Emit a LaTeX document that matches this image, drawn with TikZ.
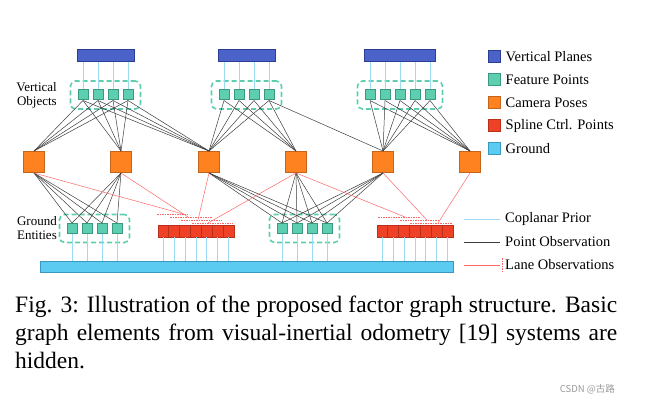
\documentclass[tikz,border=0pt]{standalone}
\usepackage{fontspec}
\setmainfont{Liberation Serif}
\newfontfamily\cjkfont{Noto Sans CJK SC}
\usepackage{tikz}
\usetikzlibrary{positioning}
\usetikzlibrary{fit}
\definecolor{planefill}{HTML}{4B62C8}
\definecolor{planeline}{HTML}{2B3E94}
\definecolor{featfill}{HTML}{5DCFB0}
\definecolor{featline}{HTML}{3A9980}
\definecolor{camfill}{HTML}{FF8220}
\definecolor{camline}{HTML}{C4631C}
\definecolor{ctrlfill}{HTML}{EE4125}
\definecolor{ctrlline}{HTML}{B8301C}
\definecolor{gndfill}{HTML}{5BCBF2}
\definecolor{gndline}{HTML}{3A97BE}
\definecolor{copblue}{HTML}{9CDCF2}
\definecolor{lanered}{HTML}{FF6666}
\definecolor{obsgray}{HTML}{3C3C3C}
\tikzset{
  feat/.style={draw=featline, fill=featfill, line width=1pt, minimum size=10pt, inner sep=0pt},
  cam/.style={draw=camline, fill=camfill, line width=1pt, minimum size=21pt, inner sep=0pt},
  ctrl/.style={draw=ctrlline, fill=ctrlfill, line width=0.8pt, minimum width=10.86pt, minimum height=12pt, inner sep=0pt},
  plane/.style={draw=planeline, fill=planefill, line width=1pt, minimum height=12pt, inner sep=0pt},
  grp/.style={draw=featfill, dash pattern=on 5pt off 3pt, line width=1.6pt, rounded corners=5pt, inner xsep=7pt, inner ysep=8.5pt},
  obs/.style={draw=obsgray, line width=0.5pt},
  lane/.style={draw=lanered, line width=0.5pt},
  lanedash/.style={draw=lanered, dash pattern=on 1.5pt off 1pt, line width=0.6pt},
  coplanar/.style={draw=copblue, line width=1pt},
  legbox/.style={line width=1pt, minimum size=12pt, inner sep=0pt},
  legtext/.style={inner sep=0pt, anchor=west, font=\fontsize{14.5}{17}\selectfont},
  sidelabel/.style={inner sep=0pt, anchor=east, align=right, font=\fontsize{13}{14}\selectfont}
}
\begin{document}
\begin{tikzpicture}[x=1pt,y=-1pt]
\useasboundingbox (0,0) rectangle (652,406);

\node[plane, minimum width=57pt] (pa) at (105.5,56) {};
\node[plane, minimum width=57pt] (pb) at (246.5,56) {};
\node[plane, minimum width=71pt] (pc) at (399.5,56) {};

\foreach \i/\x in {1/83,2/98,3/113,4/128} \node[feat] (fa\i) at (\x,95) {};
\foreach \i/\x in {1/224,2/239,3/254,4/269} \node[feat] (fb\i) at (\x,95) {};
\foreach \i/\x in {1/370,2/385,3/400,4/415,5/430} \node[feat] (fc\i) at (\x,95) {};
\node[grp, fit=(fa1)(fa4)] (ga) {};
\node[grp, fit=(fb1)(fb4)] (gb) {};
\node[grp, fit=(fc1)(fc5)] (gc) {};

\foreach \i in {1,...,4} \draw[coplanar] (fa\i.north) -- (fa\i.north |- pa.south);
\foreach \i in {1,...,4} \draw[coplanar] (fb\i.north) -- (fb\i.north |- pb.south);
\foreach \i in {1,...,5} \draw[coplanar] (fc\i.north) -- (fc\i.north |- pc.south);

\foreach \i/\x in {1/34,2/121,3/209,4/296,5/383,6/470} \node[cam] (c\i) at (\x,162) {};

\foreach \i/\x in {1/72,2/87,3/102,4/117} \node[feat] (sa\i) at (\x,228.5) {};
\foreach \i/\x in {1/282,2/297,3/312,4/327} \node[feat] (sb\i) at (\x,228.5) {};
\node[grp, fit=(sa1)(sa4)] (gsa) {};
\node[grp, fit=(sb1)(sb4)] (gsb) {};

\foreach \i in {1,...,7} \node[ctrl] (ka\i) at ({163.43+10.86*(\i-1)},231) {};
\foreach \i in {1,...,7} \node[ctrl] (kb\i) at ({382.43+10.86*(\i-1)},231) {};

\node[draw=gndline, fill=gndfill, line width=1pt, minimum width=413pt, minimum height=11pt, inner sep=0pt] (gnd) at (246.5,266.5) {};

\foreach \i in {1,...,4} {
  \draw[coplanar] (sa\i.south) -- (sa\i.south |- gnd.north);
  \draw[coplanar] (sb\i.south) -- (sb\i.south |- gnd.north);
}
\foreach \i in {1,...,7} {
  \draw[coplanar] (ka\i.south) -- (ka\i.south |- gnd.north);
  \draw[coplanar] (kb\i.south) -- (kb\i.south |- gnd.north);
}

\foreach \i in {1,...,4} \foreach \c in {1,2,3} \draw[obs] (fa\i.south) -- (c\c.north);
\foreach \i in {1,...,4} \foreach \c in {3,4} \draw[obs] (fb\i.south) -- (c\c.north);
\draw[obs] (fb4.south) -- (c5.north);
\foreach \i in {1,...,5} \foreach \c in {5,6} \draw[obs] (fc\i.south) -- (c\c.north);

\foreach \i in {1,...,4} \foreach \c in {1,2} \draw[obs] (c\c.south) -- (sa\i.north);
\foreach \i in {1,...,4} \foreach \c in {3,4,5} \draw[obs] (c\c.south) -- (sb\i.north);

\coordinate (da1) at (157,214); \coordinate (da2) at (188,214);
\coordinate (db1) at (170,217); \coordinate (db2) at (212,217);
\coordinate (dc1) at (181,220); \coordinate (dc2) at (222,220);
\coordinate (dd1) at (192,223); \coordinate (dd2) at (233,223);
\coordinate (de1) at (378,217); \coordinate (de2) at (420,217);
\coordinate (df1) at (400,220); \coordinate (df2) at (440,220);
\coordinate (dg1) at (410,223); \coordinate (dg2) at (452,223);
\foreach \a in {a,b,c,d,e,f,g} \draw[lanedash] (d\a1) -- (d\a2);

\coordinate (la1) at (183,214);
\coordinate (la2) at (188,217);
\coordinate (la3) at (198,220);
\coordinate (la4) at (208,223);
\coordinate (lb4) at (405,217);
\coordinate (lb5) at (427,220);
\coordinate (lb6) at (438,223);
\foreach \c in {1,2,3,4} \draw[lane] (c\c.south) -- (la\c);
\foreach \c in {4,5,6} \draw[lane] (c\c.south) -- (lb\c);

\node[sidelabel] (lvo) at (57,95) {Vertical\\Objects};
\node[sidelabel] (lge) at (57,228.5) {Ground\\Entities};

\node[legbox, draw=planeline, fill=planefill] (kp) at (494.5,57) {};
\node[legbox, draw=featline, fill=featfill] (kf) at (494.5,80) {};
\node[legbox, draw=camline, fill=camfill] (kc) at (494.5,103) {};
\node[legbox, draw=ctrlline, fill=ctrlfill] (ks) at (494.5,126) {};
\node[legbox, draw=gndline, fill=gndfill] (kg) at (494.5,149) {};
\node[legtext, right=4.5pt of kp] {Vertical Planes};
\node[legtext, right=4.5pt of kf] {Feature Points};
\node[legtext, right=4.5pt of kc] {Camera Poses};
\node[legtext, right=4.5pt of ks] {Spline Ctrl. Points};
\node[legtext, right=4.5pt of kg] {Ground};

\coordinate (cp1) at (464,219); \coordinate (cp2) at (500,219);
\coordinate (po1) at (464,242); \coordinate (po2) at (500,242);
\coordinate (lo1) at (464,265); \coordinate (lo2) at (500,265);
\coordinate (lt1) at (502,258); \coordinate (lt2) at (502,273);
\draw[coplanar] (cp1) -- (cp2);
\draw[obs, line width=0.8pt] (po1) -- (po2);
\draw[lane, line width=0.8pt] (lo1) -- (lo2);
\draw[lanedash] (lt1) -- (lt2);
\node[legtext, right=5pt of cp2] {Coplanar Prior};
\node[legtext, right=5pt of po2] {Point Observation};
\node[legtext, right=5pt of lo2] {Lane Observations};

\node[anchor=base west, inner sep=0pt, align=left, font=\fontsize{23.5}{28}\selectfont] (cap) at (15,368)
  {\makebox[602pt][s]{Fig. 3: Illustration of the proposed factor graph structure. Basic}\\
   \makebox[602pt][s]{graph elements from visual-inertial odometry [19] systems are}\\
   hidden.};
\node[anchor=east, inner sep=0pt, text=black!40, font=\fontsize{9.5}{11}\cjkfont] (wm) at (615,389) {CSDN @古路};
\end{tikzpicture}
\end{document}
